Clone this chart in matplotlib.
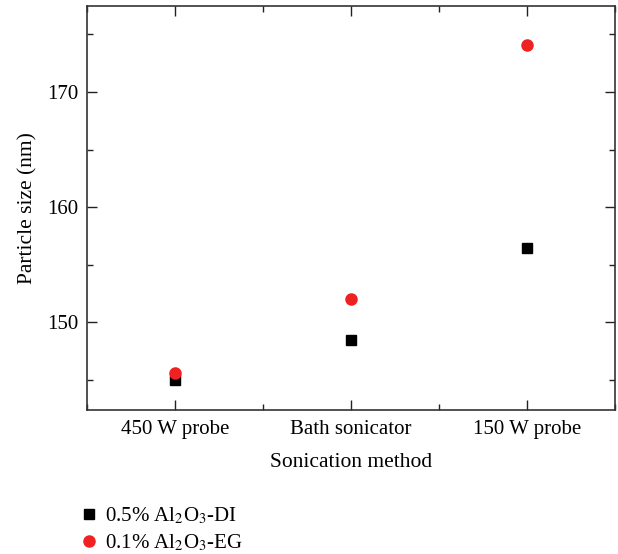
import numpy as np
import matplotlib
matplotlib.use('Agg')
import matplotlib.pyplot as plt
from matplotlib.ticker import MultipleLocator

plt.rcParams['font.family'] = ['Liberation Serif', 'DejaVu Serif']
plt.rcParams['mathtext.fontset'] = 'stix'

methods = ['450 W probe', 'Bath sonicator', '150 W probe']
di_size = [145.0, 148.5, 156.5]
eg_size = [145.6, 152.0, 174.1]

x = np.arange(1, len(methods) + 1)

fig = plt.figure(figsize=(6.18, 5.54), dpi=100)
ax = fig.add_axes([0.1408, 0.26, 0.8542, 0.730])

ax.plot(x, di_size, 's', color='black', markersize=7, linestyle='none',
        label='0.5% Al$_2$O$_3$-DI')
ax.plot(x, eg_size, 'o', color='#ee2222', markersize=8, linestyle='none',
        label='0.1% Al$_2$O$_3$-EG')

ax.set_xlim(0.5, 3.5)
ax.set_ylim(142.4, 177.5)
ax.set_xticks(x)
ax.set_xticklabels(methods)
ax.xaxis.set_minor_locator(MultipleLocator(0.5))
ax.yaxis.set_major_locator(MultipleLocator(10))
ax.yaxis.set_minor_locator(MultipleLocator(5))
ax.tick_params(which='both', direction='in', top=True, right=True,
               labelsize=15, color='#222222')
ax.tick_params(which='major', length=7, width=1)
ax.tick_params(which='minor', length=4, width=1)
ax.tick_params(axis='x', pad=7)
ax.tick_params(axis='y', pad=6)
for s in ax.spines.values():
    s.set_linewidth(1.2)
    s.set_color('#333333')

ax.set_xlabel('Sonication method', fontsize=15.5, labelpad=10)
ax.set_ylabel('Particle size (nm)', fontsize=15.5, labelpad=7)

handles, labels = ax.get_legend_handles_labels()
fig.legend(handles, labels, loc='upper left', bbox_to_anchor=(0.11, 0.103),
           frameon=False, fontsize=15, handletextpad=0.2, labelspacing=0.3,
           borderaxespad=0, handlelength=1.2)

fig.savefig('out.png', dpi=100)
